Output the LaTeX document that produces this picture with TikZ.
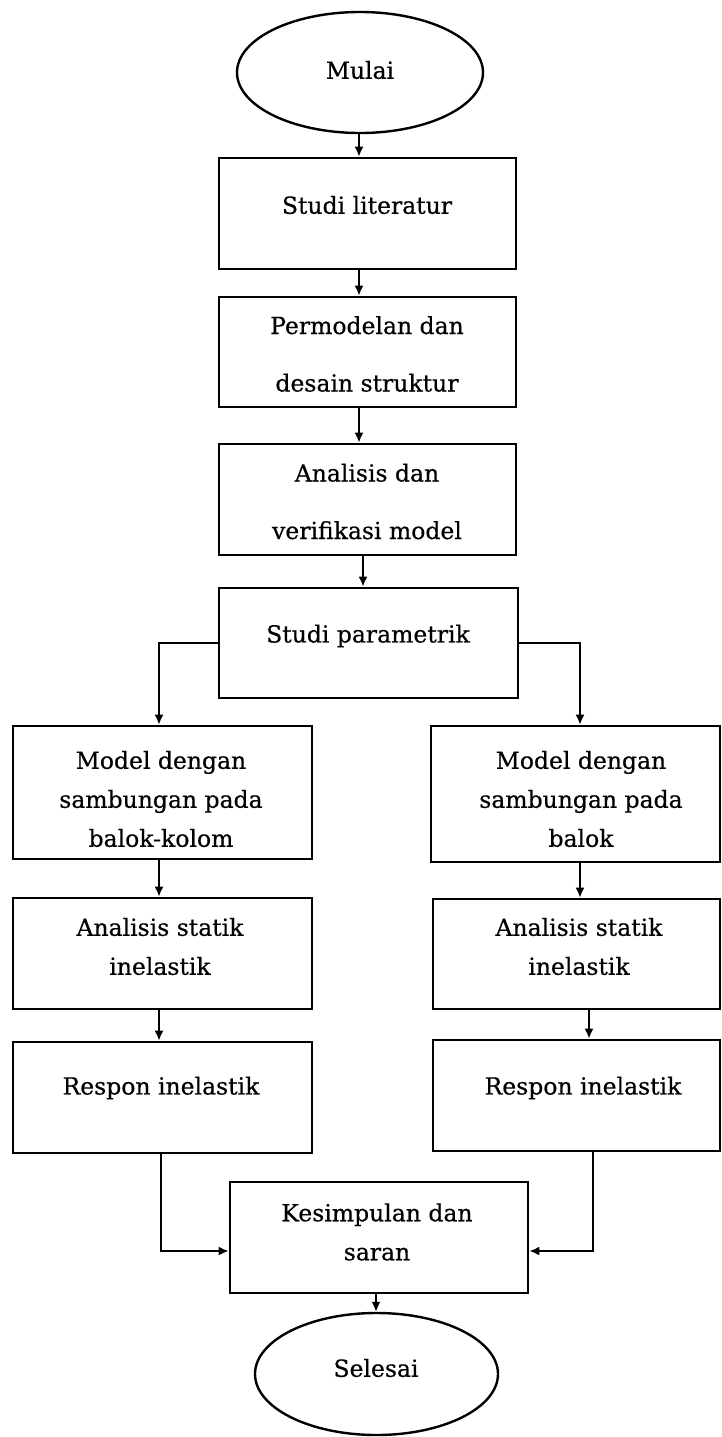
\documentclass[tikz,border=0pt]{standalone}
\usepackage{fontspec}
\setmainfont[FakeBold=0.5]{DejaVu Serif}
\usetikzlibrary{shapes.geometric,arrows.meta}
\tikzset{
  box/.style={draw=black, line width=2.6pt, rectangle, inner sep=0pt},
  oval/.style={draw=black, line width=2.4pt, ellipse, inner sep=0pt},
  txt/.style={inner sep=0pt, align=center, text=black, font=\fontsize{23.5}{39}\selectfont},
  txtwide/.style={txt, font=\fontsize{23.5}{57.5}\selectfont},
  arr/.style={draw=black, line width=2.2pt, -{Latex[length=10pt,width=9pt]}},
}
\begin{document}
\begin{tikzpicture}[x=1pt,y=-1pt]
\useasboundingbox[fill=white] (0,0) rectangle (722,1437);
% shapes
\node[oval, minimum width=246, minimum height=121] (start) at (360,72.5) {};
\node[box, minimum width=297, minimum height=111] (lit) at (367.5,213.5) {};
\node[box, minimum width=297, minimum height=110] (perm) at (367.5,352) {};
\node[box, minimum width=297, minimum height=111] (anal) at (367.5,499.5) {};
\node[box, minimum width=299, minimum height=110] (param) at (368.5,643) {};
\node[box, minimum width=299, minimum height=133] (modL) at (162.5,792.5) {};
\node[box, minimum width=289, minimum height=136] (modR) at (575.5,794) {};
\node[box, minimum width=299, minimum height=111] (staL) at (162.5,953.5) {};
\node[box, minimum width=287, minimum height=110] (staR) at (576.5,954) {};
\node[box, minimum width=299, minimum height=111] (resL) at (162.5,1097.5) {};
\node[box, minimum width=287, minimum height=111] (resR) at (576.5,1095.5) {};
\node[box, minimum width=298, minimum height=111] (kes) at (379,1237.5) {};
\node[oval, minimum width=243, minimum height=122] (end) at (376.5,1374) {};
% texts
\node[txt] (startT) at (360,70) {Mulai};
\node[txt] (litT) at (367,205) {Studi literatur};
\node[txtwide] (permT) at (367,354) {Permodelan dan\\desain struktur};
\node[txtwide] (analT) at (367,501.5) {Analisis dan\\verifikasi model};
\node[txt] (paramT) at (368,636) {Studi parametrik};
\node[txt] (modLT) at (161,799) {Model dengan\\sambungan pada\\balok-kolom};
\node[txt] (modRT) at (581,799) {Model dengan\\sambungan pada\\balok};
\node[txt] (staLT) at (160,946.5) {Analisis statik\\inelastik};
\node[txt] (staRT) at (579,946.5) {Analisis statik\\inelastik};
\node[txt] (resLT) at (161,1088) {Respon inelastik};
\node[txt] (resRT) at (583,1088) {Respon inelastik};
\node[txt] (kesT) at (377,1232) {Kesimpulan dan\\saran};
\node[txt] (endT) at (376,1368) {Selesai};
% connectors
\draw[arr] (start.south -| 359,0) -- (lit.north -| 359,0);
\draw[arr] (lit.south -| 359,0) -- (perm.north -| 359,0);
\draw[arr] (perm.south -| 359,0) -- (anal.north -| 359,0);
\draw[arr] (anal.south -| 363,0) -- (param.north -| 363,0);
\draw[arr] (param.west) -| (modL.north -| 159,0);
\draw[arr] (param.east) -| (modR.north -| 580,0);
\draw[arr] (modL.south -| 159,0) -- (staL.north -| 159,0);
\draw[arr] (modR.south -| 580,0) -- (staR.north -| 580,0);
\draw[arr] (staL.south -| 159,0) -- (resL.north -| 159,0);
\draw[arr] (staR.south -| 589,0) -- (resR.north -| 589,0);
\draw[arr] (resL.south -| 161,0) |- (kes.west |- 0,1251);
\draw[arr] (resR.south -| 593,0) |- (kes.east |- 0,1251);
\draw[arr] (kes.south -| 376,0) -- (end.north -| 376,0);
\end{tikzpicture}
\end{document}
